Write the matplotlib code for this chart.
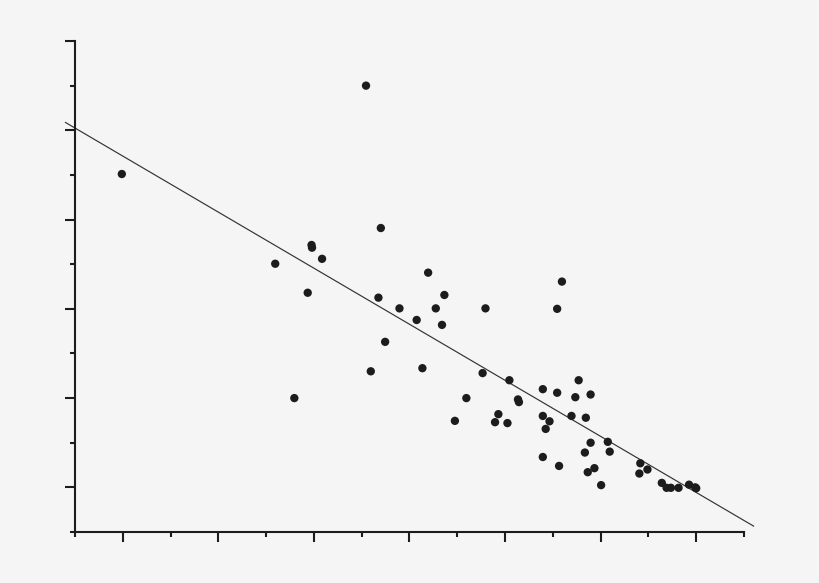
import matplotlib
matplotlib.use("Agg")
import matplotlib.pyplot as plt
import numpy as np

# Data (axis units: x 0..14, y 0..11)
x_values = [0.98, 6.09, 4.19, 4.59, 4.87, 4.95, 4.96, 5.17, 6.40, 6.35,
            6.19, 6.49, 6.79, 7.15, 7.27, 7.39, 7.55, 7.68, 7.73, 7.95,
            8.19, 8.53, 8.59, 8.79, 8.86, 9.05, 9.09, 9.27, 9.29, 9.79,
            9.79, 9.93, 9.85, 9.79, 10.09, 10.09, 10.13, 10.19, 10.39, 10.47,
            10.54, 10.69, 10.67, 10.73, 10.79, 10.79, 10.87, 11.01, 11.15, 11.19,
            11.83, 11.81, 11.98, 12.28, 12.38, 12.47, 12.63, 12.85, 12.98, 13.00]
y_values = [8.02, 10.00, 6.01, 3.00, 5.36, 6.43, 6.37, 6.12, 6.81, 5.25,
            3.60, 4.26, 5.01, 4.75, 3.67, 5.81, 5.01, 4.64, 5.31, 2.49,
            3.00, 3.56, 5.01, 2.46, 2.64, 2.44, 3.40, 2.97, 2.91, 3.20,
            2.60, 2.48, 2.31, 1.68, 5.00, 3.12, 1.48, 5.61, 2.60, 3.02,
            3.40, 2.56, 1.78, 1.34, 3.08, 2.00, 1.43, 1.05, 2.02, 1.80,
            1.54, 1.31, 1.40, 1.10, 0.99, 0.99, 0.99, 1.06, 1.00, 0.98]

# Regression line parameters and its drawn extent
reg_intercept = 9.05
reg_slope = -0.628
reg_x_range = [-0.2, 14.2]

x_major = [1, 3, 5, 7, 9, 11, 13]
x_minor = [0, 2, 4, 6, 8, 10, 12, 14]
y_major = [1, 3, 5, 7, 9, 11]
y_minor = [0, 2, 4, 6, 8, 10]

bg = "#f5f5f5"
ink = "#1c1c1c"

fig = plt.figure(figsize=(8.2, 5.83), dpi=100, facecolor=bg)
ax = fig.add_axes([75 / 820, 51 / 583, 669 / 820, 491 / 583])
ax.set_facecolor(bg)

ax.scatter(x_values, y_values, s=36, color=ink, edgecolors="none", zorder=3)

lx = np.array(reg_x_range)
ax.plot(lx, reg_intercept + reg_slope * lx, color="#333333", lw=0.85,
        clip_on=False, zorder=2)

ax.set_xlim(0, 14)
ax.set_ylim(0, 11)
for s in ("top", "right"):
    ax.spines[s].set_visible(False)
for s in ("left", "bottom"):
    ax.spines[s].set_linewidth(1.5)
    ax.spines[s].set_color(ink)

ax.set_xticks(x_major)
ax.set_xticks(x_minor, minor=True)
ax.set_yticks(y_major)
ax.set_yticks(y_minor, minor=True)
ax.tick_params(which="major", direction="out", length=7.2, width=1.5,
               color=ink, labelbottom=False, labelleft=False)
ax.tick_params(which="minor", direction="out", length=3.6, width=1.5,
               color=ink)

fig.savefig("out.png", dpi=100, facecolor=bg)
